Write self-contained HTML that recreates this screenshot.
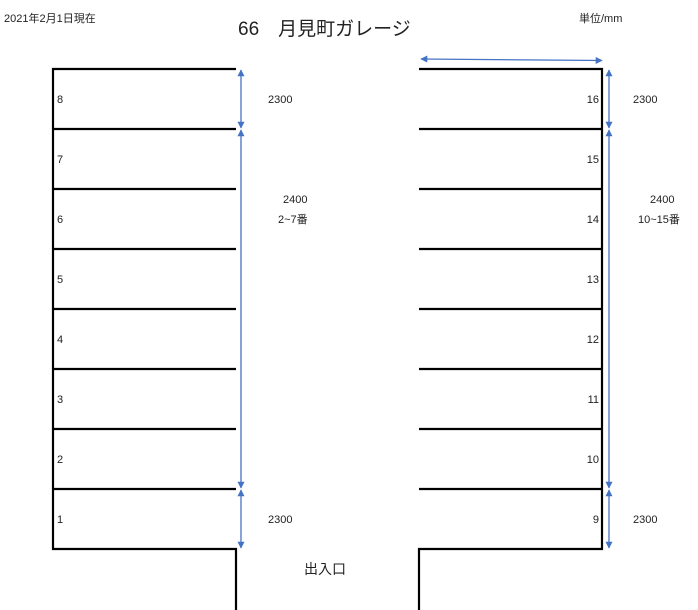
<!DOCTYPE html>
<html><head><meta charset="utf-8"><style>
html,body{margin:0;padding:0;background:#fff;width:698px;height:610px;overflow:hidden}
svg{display:block}
text{font-family:"Liberation Sans","Noto Sans CJK JP",sans-serif;fill:#222}
</style></head><body>
<svg width="698" height="610" viewBox="0 0 698 610">
<defs>
<marker id="a" viewBox="0 0 10 10" refX="9" refY="5" markerWidth="7" markerHeight="7" orient="auto-start-reverse" markerUnits="userSpaceOnUse">
<path d="M0,0 L10,5 L0,10 z" fill="#4472c4"/></marker>
</defs>
<text x="4" y="22" font-size="11">2021年2月1日現在</text>
<text x="238" y="35" font-size="19">66　月見町ガレージ</text>
<text x="579" y="22" font-size="11">単位/mm</text>
<g stroke="#000" stroke-width="2.2" fill="none">
<polyline points="236,69 53,69 53,549 236,549 236,610"/>
<line x1="53" y1="129" x2="236" y2="129"/><line x1="53" y1="189" x2="236" y2="189"/>
<line x1="53" y1="249" x2="236" y2="249"/><line x1="53" y1="309" x2="236" y2="309"/>
<line x1="53" y1="369" x2="236" y2="369"/><line x1="53" y1="429" x2="236" y2="429"/>
<line x1="53" y1="489" x2="236" y2="489"/>
<polyline points="419,69 602,69 602,549 419,549 419,610"/>
<line x1="419" y1="129" x2="602" y2="129"/><line x1="419" y1="189" x2="602" y2="189"/>
<line x1="419" y1="249" x2="602" y2="249"/><line x1="419" y1="309" x2="602" y2="309"/>
<line x1="419" y1="369" x2="602" y2="369"/><line x1="419" y1="429" x2="602" y2="429"/>
<line x1="419" y1="489" x2="602" y2="489"/>
</g>
<g stroke="#4472c4" stroke-width="1.3" marker-start="url(#a)" marker-end="url(#a)">
<line x1="241" y1="70" x2="241" y2="128"/>
<line x1="241" y1="130" x2="241" y2="488"/>
<line x1="241" y1="490" x2="241" y2="548"/>
<line x1="609" y1="70" x2="609" y2="128"/>
<line x1="609" y1="130" x2="609" y2="488"/>
<line x1="609" y1="490" x2="609" y2="548"/>
<line x1="421" y1="59" x2="602" y2="60.5"/>
</g>
<g font-size="11">
<text x="57" y="103">8</text><text x="57" y="163">7</text><text x="57" y="223">6</text>
<text x="57" y="283">5</text><text x="57" y="343">4</text><text x="57" y="403">3</text>
<text x="57" y="463">2</text><text x="57" y="523">1</text>
<g text-anchor="end">
<text x="599" y="103">16</text><text x="599" y="163">15</text><text x="599" y="223">14</text>
<text x="599" y="283">13</text><text x="599" y="343">12</text><text x="599" y="403">11</text>
<text x="599" y="463">10</text><text x="599" y="523">9</text>
</g>
<text x="268" y="103">2300</text><text x="268" y="523">2300</text>
<text x="283" y="203">2400</text><text x="278" y="223">2~7番</text>
<text x="633" y="103">2300</text><text x="633" y="523">2300</text>
<text x="650" y="203">2400</text><text x="638" y="223">10~15番</text>
</g>
<text x="304" y="574" font-size="14">出入口</text>
</svg>
</body></html>
